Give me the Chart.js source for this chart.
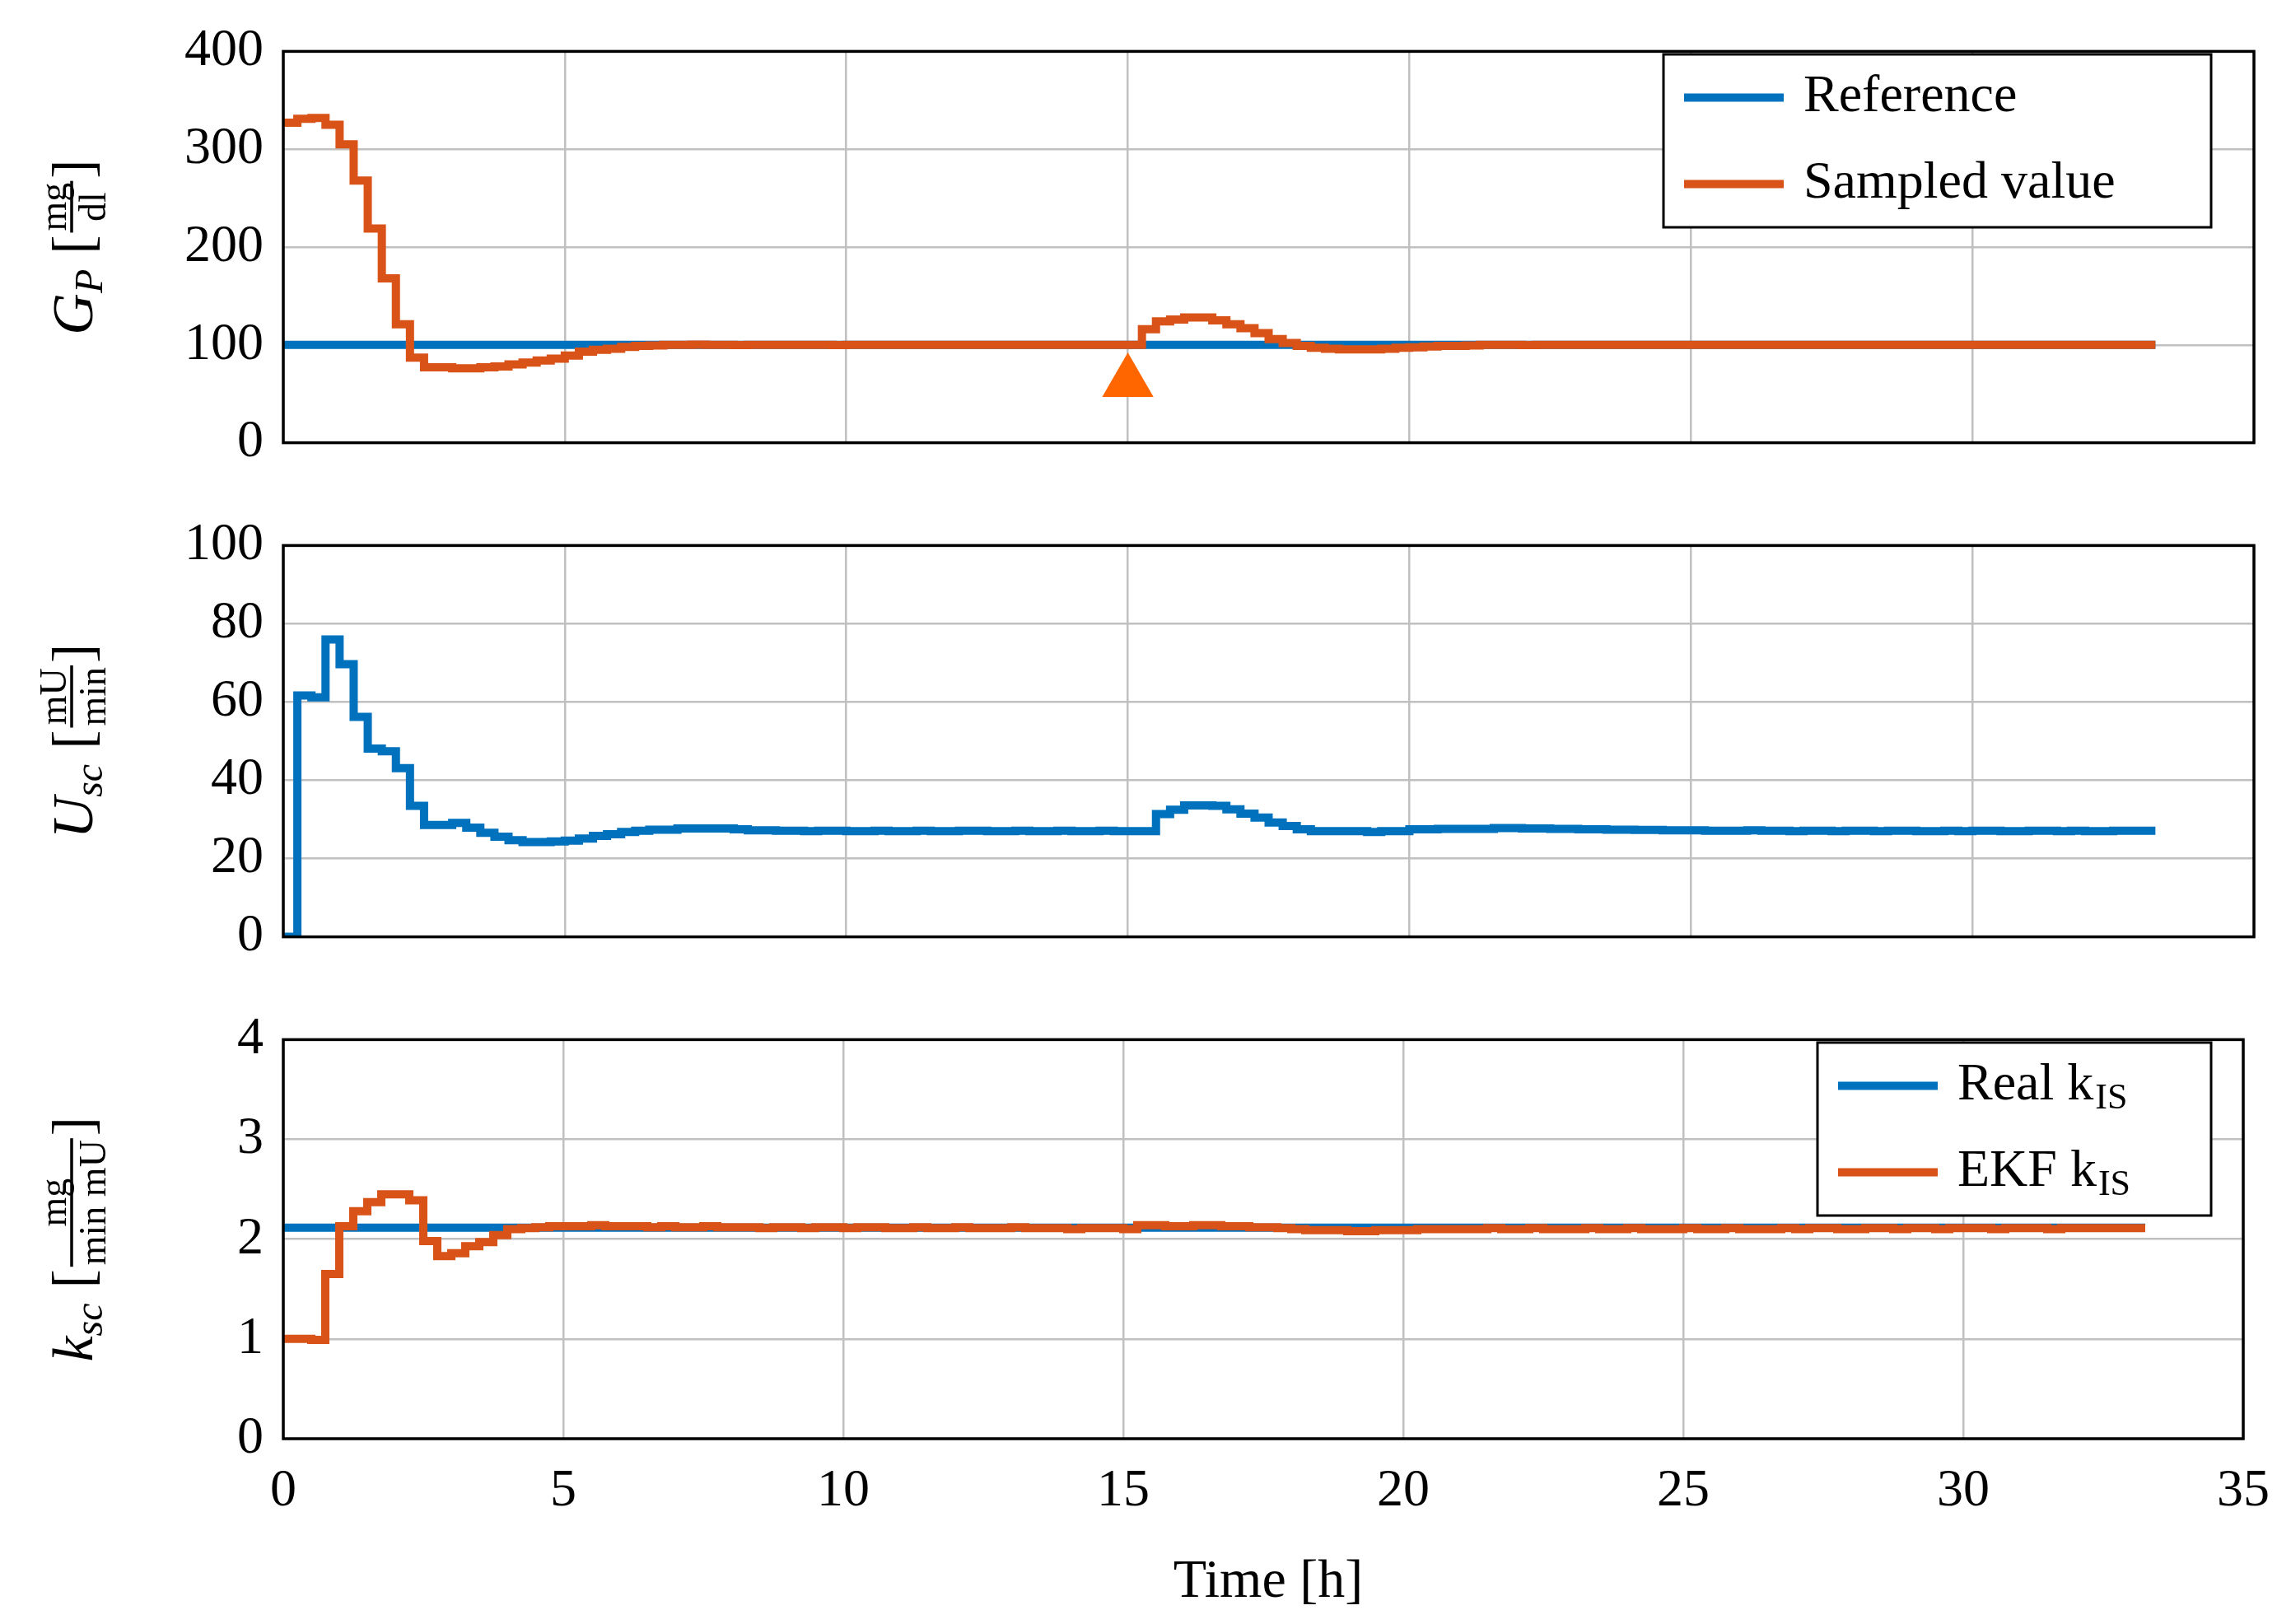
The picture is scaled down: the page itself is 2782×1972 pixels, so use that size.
<!DOCTYPE html>
<html><head><meta charset="utf-8">
<script src="https://cdn.jsdelivr.net/npm/chart.js@4"></script>
<style>html,body{margin:0;padding:0;background:#fff;width:2782px;height:1972px;overflow:hidden}
.c{position:absolute;left:0;width:2782px}</style></head>
<body>
<div class="c" style="top:0;height:600px"><canvas id="c1"></canvas></div>
<div class="c" style="top:600px;height:600px"><canvas id="c2"></canvas></div>
<div class="c" style="top:1200px;height:772px"><canvas id="c3"></canvas></div>
<script>
const sampleTimeH = 0.25;
const xTicks = [0,5,10,15,20,25,30,35];
const gpTicks = [0,100,200,300,400];
const uTicks = [0,20,40,60,80,100];
const kTicks = [0,1,2,3,4];
const gpReference = [100,100,100,100,100,100,100,100,100,100,100,100,100,100,100,100,100,100,100,100,100,100,100,100,100,100,100,100,100,100,100,100,100,100,100,100,100,100,100,100,100,100,100,100,100,100,100,100,100,100,100,100,100,100,100,100,100,100,100,100,100,100,100,100,100,100,100,100,100,100,100,100,100,100,100,100,100,100,100,100,100,100,100,100,100,100,100,100,100,100,100,100,100,100,100,100,100,100,100,100,100,100,100,100,100,100,100,100,100,100,100,100,100,100,100,100,100,100,100,100,100,100,100,100,100,100,100,100,100,100,100,100,100];
const gpSampled = [327,331,332,325,305,268,219,168,121,87,77,77,76,76,77,78,80,82,84,86,89,93,95,96,98,99,
99.5,100,100,100.2,100,100,99.8,100,100,100,100,100,100,99.8,100,100,100,100,100,100,100,100,100,100,100,100,100,100,100,100,100,100,100,100,100,
116,124,126,128,128,125,121,117,112,106,102,99,97,96,95.5,95.5,95.5,96,97,97.6,98.4,99,99,
99.5,100,100,100,99.8,100,100,100,100,100,100,100,100,100,100,100,100,100,100,100,100,100,100,100,100,100,100,100,100,100,100,100,100,100,100,100,100,100,100,100,100,100,100,100,100,100,100,100,100];
const uSc = [0,61.7,61.2,76,69.7,56.2,48.1,47.4,43.1,33.5,28.6,28.6,29.1,27.9,26.6,25.6,24.7,24.2,24.2,24.4,24.6,25.1,25.8,26.2,26.8,27.1,27.4,27.4,27.7,27.7,27.7,27.7,27.5,27.2,
27.2,27.1,27.1,27.0,27.1,27.1,27.0,27.0,27.1,27.0,27.0,27.1,27.0,27.0,27.1,27.1,27.0,27.0,27.1,27.0,27.0,27.1,27.0,27.0,27.1,27.0,27.0,
27.0,31.4,32.5,33.6,33.6,33.5,32.6,31.5,30.5,29.2,28.3,27.5,27.0,27.0,27.0,27.0,26.8,27.0,27.0,27.5,27.5,27.6,27.6,27.6,27.6,27.8,27.8,
27.7,27.7,27.6,27.6,27.5,27.5,27.4,27.4,27.3,27.3,27.2,27.2,27.2,27.1,27.1,27.1,27.2,27.1,27.1,27.0,27.1,27.1,27.0,27.1,27.1,27.0,27.1,27.1,27.0,27.0,27.1,27.0,27.1,27.1,27.0,27.0,27.1,27.1,27.0,27.1,27.0,27.0,27.1,27.1,27.1];
const kReal = [2.115,2.115,2.115,2.115,2.115,2.115,2.115,2.115,2.115,2.115,2.115,2.115,2.115,2.115,2.115,2.115,2.115,2.115,2.115,2.115,2.115,2.115,2.115,2.115,2.115,2.115,2.115,2.115,2.115,2.115,2.115,2.115,2.115,2.115,2.115,2.115,2.115,2.115,2.115,2.115,2.115,2.115,2.115,2.115,2.115,2.115,2.115,2.115,2.115,2.115,2.115,2.115,2.115,2.115,2.115,2.115,2.115,2.115,2.115,2.115,2.115,2.115,2.115,2.115,2.115,2.115,2.115,2.115,2.115,2.115,2.115,2.115,2.115,2.115,2.115,2.115,2.115,2.115,2.115,2.115,2.115,2.115,2.115,2.115,2.115,2.115,2.115,2.115,2.115,2.115,2.115,2.115,2.115,2.115,2.115,2.115,2.115,2.115,2.115,2.115,2.115,2.115,2.115,2.115,2.115,2.115,2.115,2.115,2.115,2.115,2.115,2.115,2.115,2.115,2.115,2.115,2.115,2.115,2.115,2.115,2.115,2.115,2.115,2.115,2.115,2.115,2.115,2.115,2.115,2.115,2.115,2.115,2.115];
const kEKF = [1.0,1.0,0.99,1.65,2.13,2.28,2.37,2.45,2.45,2.39,1.98,1.83,1.86,1.93,1.97,2.04,2.10,2.11,2.12,
2.13,2.13,2.13,2.14,2.13,2.13,2.13,2.12,2.13,2.12,2.12,2.13,2.12,2.12,2.12,2.11,2.12,2.12,2.11,2.12,2.12,2.11,2.12,2.12,2.11,2.11,2.12,2.11,2.11,2.12,2.11,2.11,2.11,2.12,2.11,2.11,2.11,2.10,2.11,2.11,2.11,2.10,
2.14,2.14,2.13,2.13,2.14,2.14,2.13,2.13,2.12,2.12,2.11,2.10,
2.09,2.09,2.09,2.08,2.08,2.09,2.09,2.09,2.10,2.10,2.10,2.10,
2.10,2.11,2.10,2.10,2.11,2.10,2.10,2.10,2.11,2.10,2.10,2.11,2.10,2.10,2.10,2.11,2.10,2.10,2.11,2.10,2.10,2.10,2.11,2.10,2.11,2.11,2.10,2.10,2.11,2.11,2.10,2.11,2.11,2.10,2.11,2.11,2.11,2.10,2.11,2.11,2.11,2.10,2.11,2.11,2.11,2.11,2.11,2.11];
const marker = {x:15, y:62};

const BLUE='#0072BD', ORANGE='#D95319', MARK='#FF6600';
const SERIF='"Liberation Serif","DejaVu Serif",serif';

function pts(arr){
  const out = arr.map((v,i)=>({x:i*sampleTimeH,y:v}));
  out.push({x:arr.length*sampleTimeH,y:arr[arr.length-1]});
  return out;
}
function line(label,arr,color,order){
  return {label,data:pts(arr),borderColor:color,backgroundColor:color,borderWidth:10,pointRadius:0,stepped:'before',fill:false,tension:0,order,borderCapStyle:'butt',borderJoinStyle:'miter'};
}

function drawTitle(ctx,cx,cy,parts){
  ctx.save();
  ctx.translate(cx,cy); ctx.rotate(-Math.PI/2);
  ctx.fillStyle='#000'; ctx.strokeStyle='#000';
  ctx.textBaseline='alphabetic'; ctx.textAlign='left';
  const w=parts.map(p=>{
    ctx.font=p.font;
    if(p.frac) return Math.max(ctx.measureText(p.num).width,ctx.measureText(p.den).width)+10;
    return ctx.measureText(p.t).width+(p.gap||0);
  });
  const total=w.reduce((a,b)=>a+b,0);
  let x=-total/2;
  parts.forEach((p,i)=>{
    ctx.font=p.font;
    if(p.frac){
      const ww=w[i];
      ctx.textAlign='center';
      ctx.fillText(p.num,x+ww/2,-10);
      ctx.fillText(p.den,x+ww/2,38);
      ctx.lineWidth=3.5; ctx.beginPath(); ctx.moveTo(x+3,-3); ctx.lineTo(x+ww-3,-3); ctx.stroke();
      ctx.textAlign='left';
    } else {
      ctx.fillText(p.t,x,(p.dy||0)+22);
    }
    x+=w[i];
  });
  ctx.restore();
}

function drawLegend(ctx,x,y,w,h,items){
  ctx.save();
  ctx.fillStyle='#fff'; ctx.fillRect(x,y,w,h);
  ctx.strokeStyle='#000'; ctx.lineWidth=3; ctx.strokeRect(x,y,w,h);
  items.forEach((it,i)=>{
    const yy=y+h*(i+0.5)/items.length;
    ctx.strokeStyle=it.color; ctx.lineWidth=10; ctx.beginPath(); ctx.moveTo(x+25,yy); ctx.lineTo(x+146,yy); ctx.stroke();
    ctx.fillStyle='#000'; ctx.textBaseline='middle'; ctx.textAlign='left';
    ctx.font='64px '+SERIF;
    ctx.fillText(it.text,x+170,yy);
    if(it.sub){
      const tw=ctx.measureText(it.text).width;
      ctx.font='44px '+SERIF;
      ctx.fillText(it.sub,x+170+tw+2,yy+16);
    }
  });
  ctx.restore();
}

function makeChart(id,opt){
  const frame={
    id:'frame'+id,
    afterDraw(chart){
      const {ctx,chartArea:a}=chart;
      ctx.save(); ctx.strokeStyle='#000'; ctx.lineWidth=3.5;
      ctx.strokeRect(a.left,a.top,a.right-a.left,a.bottom-a.top);
      ctx.restore();
      drawTitle(ctx,90,(a.top+a.bottom)/2,opt.title);
      if(opt.legend) opt.legend(ctx);
      if(opt.extra) opt.extra(ctx,chart);
    }
  };
  return new Chart(document.getElementById(id),{
    type:'line',
    data:{datasets:opt.datasets},
    options:{
      responsive:true,maintainAspectRatio:false,animation:false,
      layout:{padding:{top:opt.padTop,right:45,left:0,bottom:0}},
      plugins:{legend:{display:false},tooltip:{enabled:false}},
      scales:{
        x:{type:'linear',min:0,max:35,
          afterBuildTicks(s){s.ticks=xTicks.map(v=>({value:v}));},
          afterFit(s){s.height=opt.xHeight;},
          grid:{color:'#c0c0c0',lineWidth:2.5,drawTicks:false},border:{display:false},
          ticks:{display:opt.showX,padding:26,color:'#000',font:{family:SERIF,size:64},maxRotation:0}},
        y:{min:opt.ymin,max:opt.ymax,
          afterBuildTicks(s){s.ticks=opt.yTicks.map(v=>({value:v}));},
          afterFit(s){s.width=344;},
          grid:{color:'#c0c0c0',lineWidth:2.5,drawTicks:false},border:{display:false},
          ticks:{padding:24,color:'#000',font:{family:SERIF,size:64}}}
      }
    },
    plugins:[frame]
  });
}

const fBig='italic 70px '+SERIF, fSub='italic 48px '+SERIF, fBr='70px '+SERIF, fFr='46px '+SERIF;

makeChart('c1',{
  padTop:54,xHeight:49,showX:false,ymin:0,ymax:400,yTicks:gpTicks,
  datasets:[line('Reference',gpReference,BLUE,2),line('Sampled value',gpSampled,ORANGE,1),
    {type:'scatter',label:'marker',data:[marker],order:0,pointStyle:'triangle',pointRadius:36,pointBackgroundColor:MARK,pointBorderColor:MARK,borderWidth:0}],
  title:[{t:'G',font:fBig},{t:'P',font:fSub,dy:12,gap:18},{t:'[',font:fBr},{frac:true,num:'mg',den:'dl',font:fFr},{t:']',font:fBr}],
  legend:ctx=>drawLegend(ctx,2020,66,665,210,[{text:'Reference',color:BLUE},{text:'Sampled value',color:ORANGE}])
});
makeChart('c2',{
  padTop:52,xHeight:52,showX:false,ymin:0,ymax:100,yTicks:uTicks,
  datasets:[line('Usc',uSc,BLUE,1)],
  title:[{t:'U',font:fBig},{t:'sc',font:fSub,dy:12,gap:18},{t:'[',font:fBr},{frac:true,num:'mU',den:'min',font:fFr},{t:']',font:fBr}]
});
makeChart('c3',{
  padTop:51,xHeight:225,showX:true,ymin:0,ymax:4,yTicks:kTicks,
  datasets:[line('Real kIS',kReal,BLUE,2),line('EKF kIS',kEKF,ORANGE,1)],
  title:[{t:'k',font:fBig},{t:'sc',font:fSub,dy:12,gap:18},{t:'[',font:fBr},{frac:true,num:'mg',den:'min mU',font:fFr},{t:']',font:fBr}],
  legend:ctx=>drawLegend(ctx,2207,66,478,210,[{text:'Real k',sub:'IS',color:BLUE},{text:'EKF k',sub:'IS',color:ORANGE}]),
  extra:(ctx)=>{ctx.save();ctx.fillStyle='#000';ctx.font='66px '+SERIF;ctx.textAlign='center';ctx.textBaseline='middle';ctx.fillText('Time [h]',1540,722);ctx.restore();}
});
</script>
</body></html>
